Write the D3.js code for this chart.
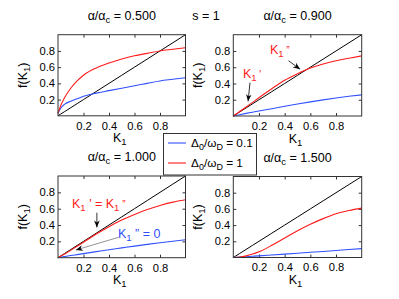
<!DOCTYPE html>
<html><head><meta charset="utf-8">
<script src="https://cdn.jsdelivr.net/npm/d3@7"></script>
<style>
body{margin:0;background:#fff;}
text{font-family:"Liberation Sans",Arial,Helvetica,sans-serif;}
</style></head>
<body><svg id="c" width="399" height="299"></svg>
<script>
const titles = ["0.500","0.900","1.000","1.500"];
const tickVals = [0.2,0.4,0.6,0.8];
const K = [0,0.02,0.05,0.1,0.15,0.2,0.3,0.4,0.5,0.6,0.7,0.8,0.9,1.0];
// red: Δ0/ωD = 1 ; blue: Δ0/ωD = 0.1
const red1  = [0.03,0.12,0.22,0.34,0.43,0.50,0.59,0.65,0.70,0.74,0.77,0.80,0.82,0.84];
const blue1 = [0.03,0.09,0.14,0.18,0.21,0.24,0.28,0.31,0.34,0.37,0.40,0.43,0.45,0.47];
const red2  = [0,0.022,0.055,0.11,0.167,0.225,0.335,0.44,0.52,0.59,0.64,0.68,0.71,0.74];
const blue2 = [0,0.006,0.016,0.032,0.047,0.062,0.09,0.12,0.148,0.174,0.198,0.221,0.242,0.26];
const red3  = [0,0.017,0.044,0.09,0.14,0.19,0.29,0.38,0.46,0.53,0.59,0.64,0.68,0.71];
const blue3 = [0,0.005,0.013,0.026,0.038,0.05,0.074,0.098,0.12,0.142,0.163,0.183,0.202,0.22];
const red4  = [0,0.002,0.006,0.02,0.042,0.07,0.15,0.24,0.33,0.41,0.48,0.54,0.58,0.61];
const blue4 = [0,0.002,0.005,0.01,0.015,0.02,0.031,0.042,0.053,0.064,0.075,0.087,0.098,0.11];
const reds = [red1,red2,red3,red4], blues=[blue1,blue2,blue3,blue4];
const legendLabels = ["0.1","1"];

const panels = [
  {L:58, R:185.5, T:34.7, B:115.8},
  {L:233.3, R:361.7, T:34.7, B:116},
  {L:58, R:185.5, T:176, B:257.7},
  {L:233.3, R:361.7, T:176.5, B:257.5}
];
const RED="#ff1a1a", BLUE="#3050ff", BOX="#333";
const svg = d3.select("#c");
svg.append("rect").attr("width",399).attr("height",299).attr("fill","#fff");
const defs = svg.append("defs");
defs.append("marker").attr("id","ah").attr("viewBox","0 0 10 10").attr("refX",10).attr("refY",5)
  .attr("markerWidth",7).attr("markerHeight",7).attr("markerUnits","userSpaceOnUse").attr("orient","auto")
  .append("path").attr("d","M0,1 L10,5 L0,9 L3,5 Z").attr("fill","#000");

const scales = [];
panels.forEach((p,i)=>{
  const x = d3.scaleLinear([0,1],[p.L,p.R]);
  const y = d3.scaleLinear([0,1],[p.B,p.T]);
  scales.push({x,y});
  const g = svg.append("g");
  const fmt = d3.format(".1f");
  const ax = (gen, tr)=>{
    const a = g.append("g").attr("transform",tr).call(gen);
    a.select(".domain").remove();
    a.selectAll(".tick line").attr("stroke",BOX);
    a.selectAll("text").attr("font-size",11.2).attr("fill","#000").attr("font-family","Liberation Sans, Arial, sans-serif");
    return a;
  };
  ax(d3.axisBottom(x).tickValues(tickVals).tickFormat(fmt).tickSize(-3).tickPadding(6),`translate(0,${p.B})`);
  ax(d3.axisTop(x).tickValues(tickVals).tickFormat("").tickSize(-3),`translate(0,${p.T})`);
  ax(d3.axisLeft(y).tickValues(tickVals).tickFormat(fmt).tickSize(-3).tickPadding(3),`translate(${p.L},0)`);
  ax(d3.axisRight(y).tickValues(tickVals).tickFormat("").tickSize(-3),`translate(${p.R},0)`);

  const line = d3.line().x(d=>x(d[0])).y(d=>y(d[1])).curve(d3.curveMonotoneX);
  g.append("path").attr("d",line(K.map(k=>[k,k]))).attr("fill","none").attr("stroke","#000").attr("stroke-width",1);
  g.append("path").attr("d",line(K.map((k,j)=>[k,blues[i][j]]))).attr("fill","none").attr("stroke",BLUE).attr("stroke-width",1.1);
  g.append("path").attr("d",line(K.map((k,j)=>[k,reds[i][j]]))).attr("fill","none").attr("stroke",RED).attr("stroke-width",1.1);
  g.append("rect").attr("x",p.L).attr("y",p.T).attr("width",p.R-p.L).attr("height",p.B-p.T)
    .attr("fill","none").attr("stroke",BOX).attr("stroke-width",1);

  const cx = (p.L+p.R)/2;
  const t = g.append("text").attr("x",cx).attr("y",p.T-15).attr("text-anchor","middle").attr("font-size",12.5);
  t.append("tspan").text("α/α");
  t.append("tspan").attr("dy",3).attr("font-size",9.5).text("c");
  t.append("tspan").attr("dy",-3).text(" = "+titles[i]);
  const xl = g.append("text").attr("x",cx-2).attr("y",p.B+26.5).attr("text-anchor","middle").attr("font-size",12.5);
  xl.append("tspan").text("K");
  xl.append("tspan").attr("dy",3).attr("font-size",9.5).text("1");
  const yl = g.append("text").attr("transform",`translate(${p.L-31},${(p.T+p.B)/2}) rotate(-90)`)
    .attr("text-anchor","middle").attr("font-size",12.5);
  yl.append("tspan").text("f(K");
  yl.append("tspan").attr("dy",3).attr("font-size",9.5).text("1");
  yl.append("tspan").attr("dy",-3).text(")");
});

svg.append("text").attr("x",206).attr("y",20).attr("text-anchor","middle").attr("font-size",12.5).text("s = 1");

function kLabel(sel, parts){
  parts.forEach(pt=>sel.append("tspan").attr("dy",pt[1]).attr("font-size",pt[2]).text(pt[0]));
}
function arrow(s, x0,y0,x1,y1,col){
  svg.append("line").attr("x1",s.x(x0)).attr("y1",s.y(y0)).attr("x2",s.x(x1)).attr("y2",s.y(y1))
    .attr("stroke",col||"#000").attr("stroke-width",0.8).attr("marker-end","url(#ah)");
}
{
  const s = scales[1];
  const a = svg.append("text").attr("x",s.x(0.285)).attr("y",s.y(0.765)).attr("fill",RED).attr("font-size",12.5);
  kLabel(a,[["K",0,12.5],["1",3,9.5],[" \u201D",-3,10]]);
  const b = svg.append("text").attr("x",s.x(0.075)).attr("y",s.y(0.47)).attr("fill",RED).attr("font-size",12.5);
  kLabel(b,[["K",0,12.5],["1",3,9.5],[" '",-3,10]]);
  arrow(s,0.43,0.68,0.52,0.575);
  arrow(s,0.13,0.41,0.115,0.18);
}
{
  const s = scales[2];
  const a = svg.append("text").attr("x",s.x(0.11)).attr("y",s.y(0.61)).attr("fill",RED).attr("font-size",12.5);
  kLabel(a,[["K",0,12.5],["1",3,9.5],[" ' = K",-3,12.5],["1",3,9.5],[" \u201D",-3,10]]);
  arrow(s,0.305,0.55,0.305,0.37);
  const b = svg.append("text").attr("x",s.x(0.47)).attr("y",s.y(0.24)).attr("fill",BLUE).attr("font-size",12.5);
  kLabel(b,[["K",0,12.5],["1",3,9.5],[" \u201D = 0",-3,12.5]]);
  svg.append("line").attr("x1",s.x(0.475)).attr("y1",s.y(0.25)).attr("x2",s.x(0.14)).attr("y2",s.y(0.094))
    .attr("stroke","#777").attr("stroke-width",0.8).attr("marker-end","url(#ah)");
}
{
  const lg = svg.append("g");
  lg.append("rect").attr("x",163.5).attr("y",133.5).attr("width",93).attr("height",41.5)
    .attr("fill","#fff").attr("stroke",BOX).attr("stroke-width",1);
  [BLUE,RED].forEach((c,i)=>{
    const yy = 143+i*20;
    lg.append("line").attr("x1",168).attr("x2",186).attr("y1",yy).attr("y2",yy).attr("stroke",c).attr("stroke-width",1.1);
    const t = lg.append("text").attr("x",191).attr("y",yy+4).attr("font-size",11.8);
    t.append("tspan").text("Δ");
    t.append("tspan").attr("dy",3).attr("font-size",9).text("0");
    t.append("tspan").attr("dy",-3).text("/ω");
    t.append("tspan").attr("dy",3).attr("font-size",9).text("D");
    t.append("tspan").attr("dy",-3).text(" = "+legendLabels[i]);
  });
}
</script></body></html>
